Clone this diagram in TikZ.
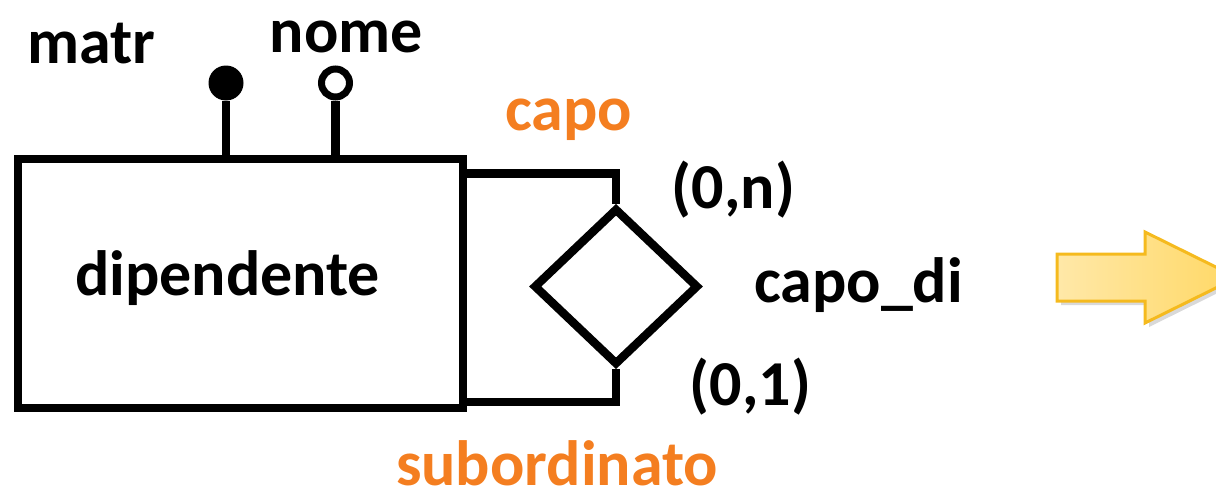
\documentclass[tikz,border=0pt]{standalone}
\usepackage{fontspec}
\setmainfont{Carlito}
\usepackage{xcolor}
\usetikzlibrary{shapes.geometric, positioning, shadows}
\definecolor{ER_Orange}{HTML}{F47E20}
\definecolor{Arrow_Light}{HTML}{FFE8A8}
\definecolor{Arrow_Fill}{HTML}{FFD865}
\definecolor{Arrow_Edge}{HTML}{F5BA1E}

\begin{document}
\begin{tikzpicture}[x=0.5pt, y=-0.5pt,
    er/.style={line width=4.2pt, black},
    lbl/.style={font=\fontsize{32}{38}\selectfont\bfseries, anchor=base, inner sep=0pt},
    role/.style={lbl, text=ER_Orange}]
    \useasboundingbox (0,0) rectangle (1216,503);

    % Entity and relationship
    \node[draw, er, rectangle, minimum width=222.5pt, minimum height=124.5pt, inner sep=0pt] (dip) at (240.5,283.5) {};
    \node[lbl] (dipLabel) at (227.5,295) {dipendente};
    \node[draw, er, diamond, minimum width=82.5pt, minimum height=78.5pt, inner sep=0pt] (rel) at (616,286.5) {};
    \node[lbl] (relLabel) at (858.5,302) {capo\_di};

    % Attributes (filled dot = identifier)
    \node[circle, fill, inner sep=0pt, minimum size=17.5pt] (matrDot) at (226,83) {};
    \node[circle, draw, line width=3.5pt, inner sep=0pt, minimum size=14pt] (nomeDot) at (335.5,83) {};
    \draw[er] (matrDot) -- (matrDot |- dip.north);
    \draw[er] (nomeDot) -- (nomeDot |- dip.north);
    \node[lbl] (matrLabel) at (91,63) {matr};
    \node[lbl] (nomeLabel) at (346.5,52) {nome};

    % Ring: the two roles
    \coordinate (capoY) at (0,173.5);
    \coordinate (subY) at (0,402);
    \draw[er] (dip.east |- capoY) -| (rel.north);
    \draw[er] (dip.east |- subY) -| (rel.south);
    \node[role] (capoLabel) at (568.5,130) {capo};
    \node[role] (subLabel) at (557,485) {subordinato};
    \node[lbl] (capoCard) at (733.5,208) {(0,n)};
    \node[lbl] (subCard) at (750.5,405) {(0,1)};

    % Block arrow
    \path[draw=Arrow_Edge, line width=1.5pt, left color=Arrow_Light, right color=Arrow_Fill,
        drop shadow={shadow xshift=2pt, shadow yshift=-2pt, opacity=0.3}]
        (1057,254) -- (1145,254) -- (1145,232) -- (1237,277.5) -- (1145,323) -- (1145,301) -- (1057,301) -- cycle;
\end{tikzpicture}
\end{document}
